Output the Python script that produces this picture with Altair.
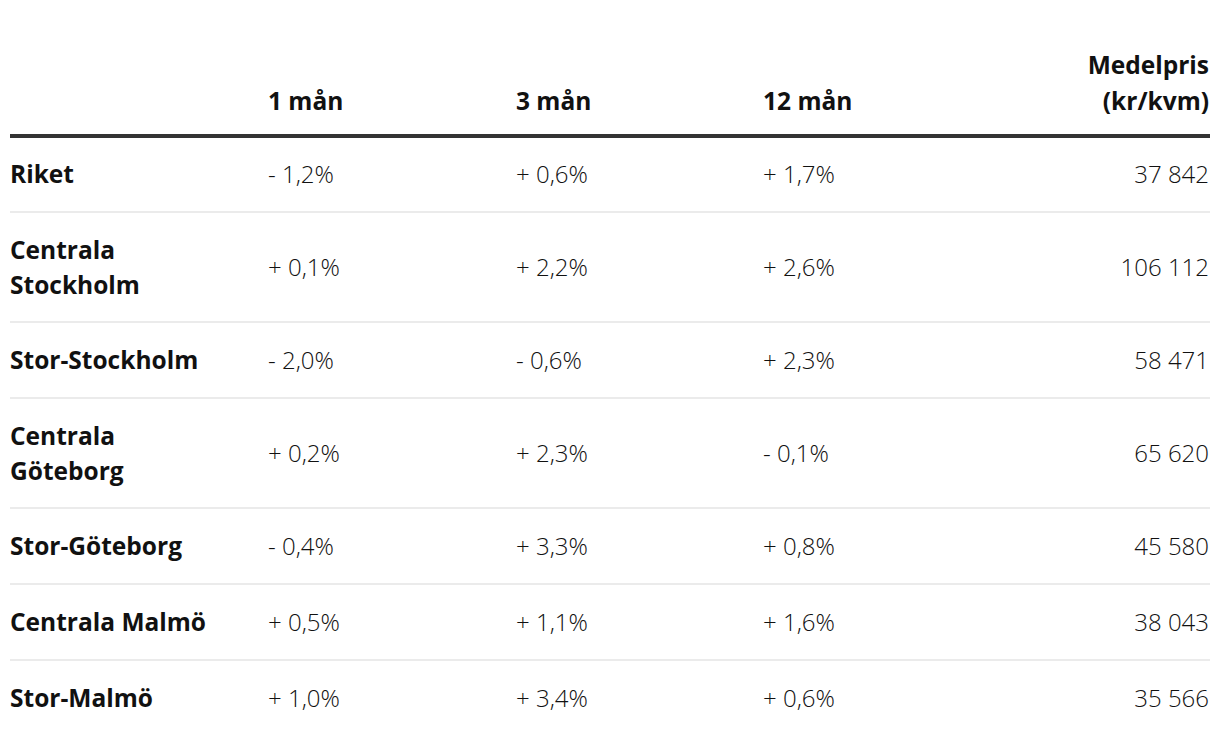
import altair as alt
import pandas as pd

# ---- data ----
regions = ["Riket", "Centrala\nStockholm", "Stor-Stockholm", "Centrala\nGöteborg",
           "Stor-Göteborg", "Centrala Malmö", "Stor-Malmö"]
change_1m = [-1.2, 0.1, -2.0, 0.2, -0.4, 0.5, 1.0]
change_3m = [0.6, 2.2, -0.6, 2.3, 3.3, 1.1, 3.4]
change_12m = [1.7, 2.6, 2.3, -0.1, 0.8, 1.6, 0.6]
price = [37842, 106112, 58471, 65620, 45580, 38043, 35566]
headers = ["1 mån", "3 mån", "12 mån"]
price_header = "Medelpris\n(kr/kvm)"

# ---- layout ----
W, H = 1204, 730
HEAD = 128          # y of header rule
ONE, TWO = 76, 110  # row heights for 1-line / 2-line labels
X_LEFT, X_RIGHT = 2, 1202
COL_X = {"m1": 260, "m3": 508, "m12": 755}
PRICE_X = 1201
FONT = "Open Sans"
FS_B = 24.5
FS = 24
LH_LABEL = 35
LH_HEAD = 36


def pct(v):
    return ("+ " if v >= 0 else "- ") + f"{abs(v):.1f}".replace(".", ",") + "%"


def num(v):
    return f"{v:,}".replace(",", " ")


centers, bottoms = [], []
y = HEAD
for r in regions:
    h = TWO if "\n" in r else ONE
    centers.append(y + h / 2)
    bottoms.append(y + h)
    y += h

label_rows, pct_rows, price_rows = [], [], []
for i, r in enumerate(regions):
    lines = r.split("\n")
    n = len(lines)
    for k, ln in enumerate(lines):
        label_rows.append({"x": X_LEFT, "y": centers[i] + (k - (n - 1) / 2) * LH_LABEL, "t": ln})
    for key, arr in (("m1", change_1m), ("m3", change_3m), ("m12", change_12m)):
        pct_rows.append({"x": COL_X[key], "y": centers[i], "t": pct(arr[i])})
    price_rows.append({"x": PRICE_X, "y": centers[i], "t": num(price[i])})

head_y = 107
head_rows = [{"x": COL_X[k], "y": head_y, "t": h} for k, h in zip(["m1", "m3", "m12"], headers)]
ph_lines = price_header.split("\n")
head_price = [{"x": PRICE_X, "y": head_y - (len(ph_lines) - 1 - k) * LH_HEAD, "t": ln}
              for k, ln in enumerate(ph_lines)]

rule_head = [{"x": X_LEFT, "x2": X_RIGHT, "y": HEAD}]
rule_sep = [{"x": X_LEFT, "x2": X_RIGHT, "y": b} for b in bottoms[:-1]]

xs = alt.Scale(domain=[0, W], range=[0, W], nice=False, zero=False)
ys = alt.Scale(domain=[0, H], range=[0, H], nice=False, zero=False)
X = alt.X("x:Q", scale=xs, axis=None)
Y = alt.Y("y:Q", scale=ys, axis=None)

sep = alt.Chart(pd.DataFrame(rule_sep)).mark_rule(color="#ebebeb", strokeWidth=2).encode(
    x=X, x2="x2:Q", y=Y)
head_rule = alt.Chart(pd.DataFrame(rule_head)).mark_rule(color="#333333", strokeWidth=4).encode(
    x=X, x2="x2:Q", y=Y)

head_txt = alt.Chart(pd.DataFrame(head_rows)).mark_text(
    align="left", baseline="bottom", font=FONT, fontSize=FS_B, fontWeight="bold",
    color="#111111").encode(x=X, y=Y, text="t:N")
head_price_txt = alt.Chart(pd.DataFrame(head_price)).mark_text(
    align="right", baseline="bottom", font=FONT, fontSize=FS_B, fontWeight="bold",
    color="#111111").encode(x=X, y=Y, text="t:N")

label_txt = alt.Chart(pd.DataFrame(label_rows)).mark_text(
    align="left", baseline="middle", font=FONT, fontSize=FS_B, fontWeight="bold",
    color="#111111", dy=2).encode(x=X, y=Y, text="t:N")
pct_txt = alt.Chart(pd.DataFrame(pct_rows)).mark_text(
    align="left", baseline="middle", font=FONT, fontSize=FS, fontWeight=300,
    color="#111111", dy=2).encode(x=X, y=Y, text="t:N")
price_txt = alt.Chart(pd.DataFrame(price_rows)).mark_text(
    align="right", baseline="middle", font=FONT, fontSize=FS, fontWeight=300,
    color="#111111", dy=2).encode(x=X, y=Y, text="t:N")

chart = alt.layer(sep, head_rule, head_txt, head_price_txt, label_txt, pct_txt, price_txt).properties(
    width=W, height=H, padding=0, autosize="none", background="white"
).configure_view(stroke=None)

chart.save("out.html", embed_options={"renderer": "svg", "actions": False})
